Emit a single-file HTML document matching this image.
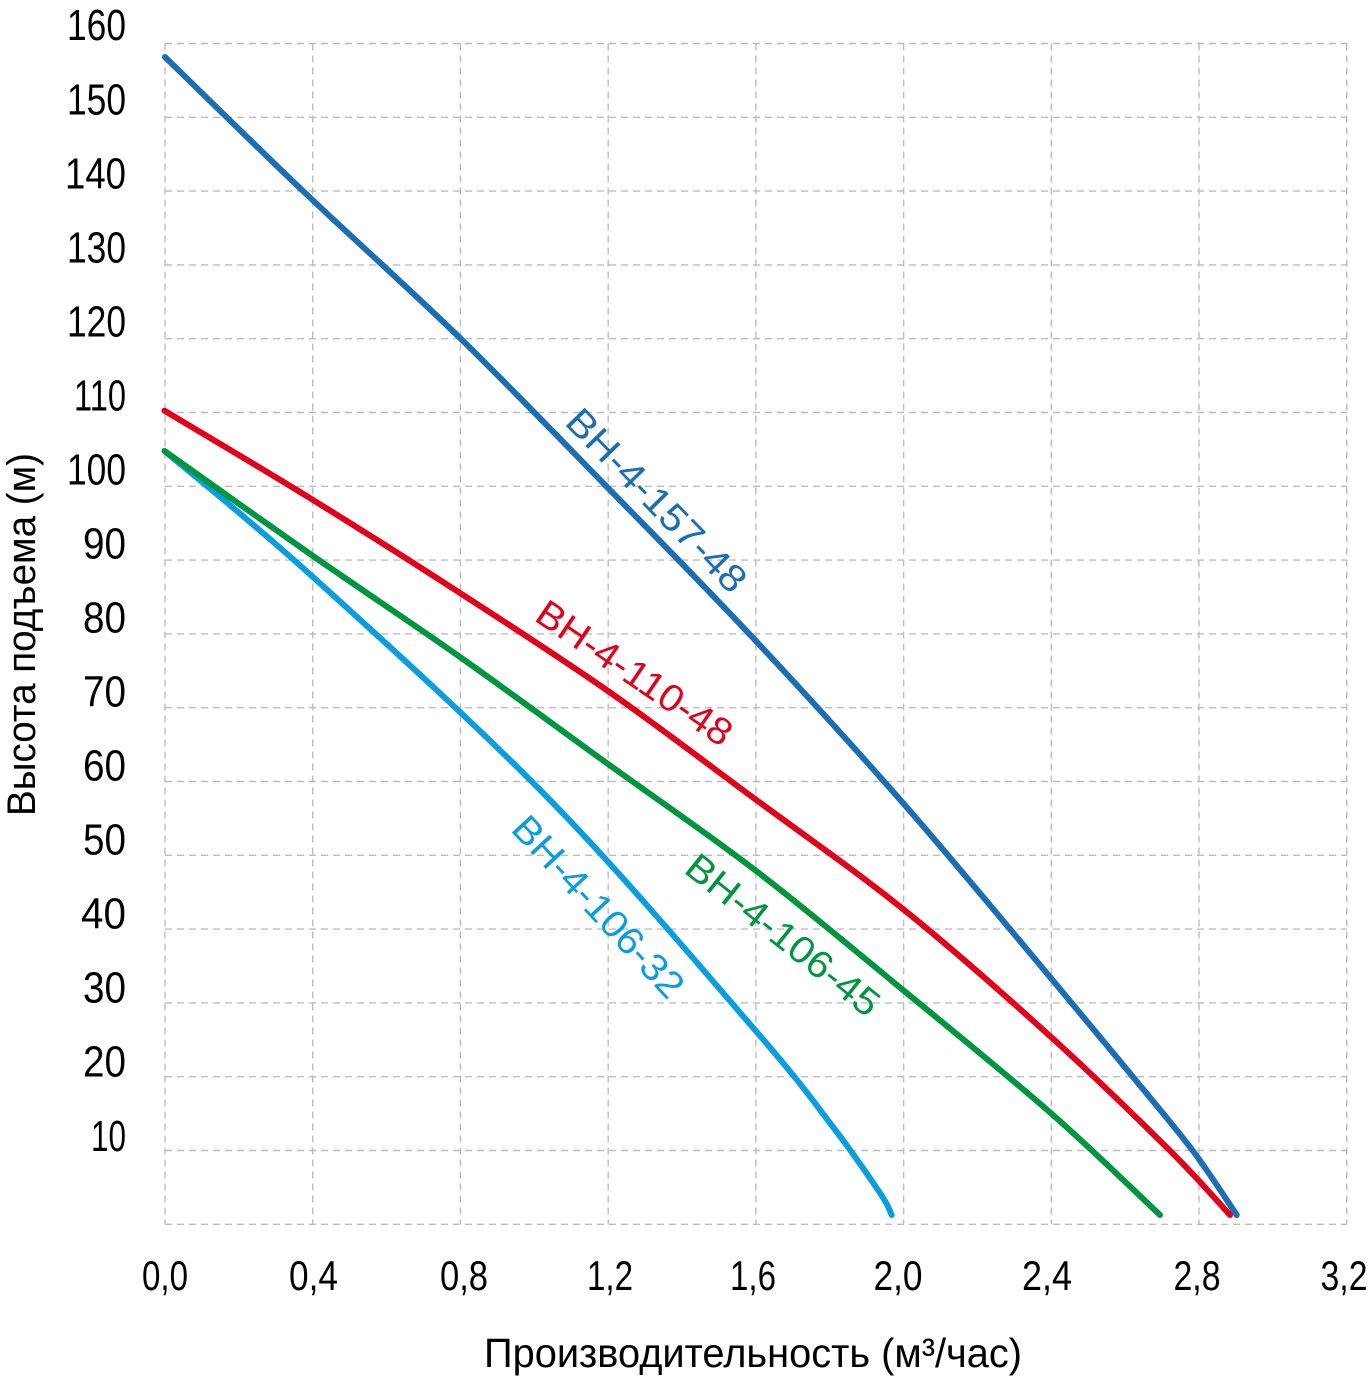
<!DOCTYPE html>
<html>
<head>
<meta charset="utf-8">
<style>
html,body{margin:0;padding:0;background:#fff;}
svg{display:block;}
text{font-family:"Liberation Sans","DejaVu Sans",sans-serif;}
</style>
</head>
<body>
<svg width="1371" height="1376" viewBox="0 0 1371 1376" xmlns="http://www.w3.org/2000/svg">
<rect width="1371" height="1376" fill="#fff"/>
<g stroke="#bdbdbd" stroke-width="1.4" stroke-dasharray="7 5" fill="none">
<line x1="165" y1="43.5" x2="1347" y2="43.5"/>
<line x1="165" y1="117.3" x2="1347" y2="117.3"/>
<line x1="165" y1="191.1" x2="1347" y2="191.1"/>
<line x1="165" y1="264.9" x2="1347" y2="264.9"/>
<line x1="165" y1="338.7" x2="1347" y2="338.7"/>
<line x1="165" y1="412.5" x2="1347" y2="412.5"/>
<line x1="165" y1="486.3" x2="1347" y2="486.3"/>
<line x1="165" y1="560.1" x2="1347" y2="560.1"/>
<line x1="165" y1="633.9" x2="1347" y2="633.9"/>
<line x1="165" y1="707.7" x2="1347" y2="707.7"/>
<line x1="165" y1="781.5" x2="1347" y2="781.5"/>
<line x1="165" y1="855.3" x2="1347" y2="855.3"/>
<line x1="165" y1="929.1" x2="1347" y2="929.1"/>
<line x1="165" y1="1002.9" x2="1347" y2="1002.9"/>
<line x1="165" y1="1076.7" x2="1347" y2="1076.7"/>
<line x1="165" y1="1150.5" x2="1347" y2="1150.5"/>
<line x1="165" y1="1224.3" x2="1347" y2="1224.3"/>
<line x1="165" y1="43.5" x2="165" y2="1224.3"/>
<line x1="312.7" y1="43.5" x2="312.7" y2="1224.3"/>
<line x1="460.4" y1="43.5" x2="460.4" y2="1224.3"/>
<line x1="608.2" y1="43.5" x2="608.2" y2="1224.3"/>
<line x1="755.9" y1="43.5" x2="755.9" y2="1224.3"/>
<line x1="903.6" y1="43.5" x2="903.6" y2="1224.3"/>
<line x1="1051.3" y1="43.5" x2="1051.3" y2="1224.3"/>
<line x1="1199" y1="43.5" x2="1199" y2="1224.3"/>
<line x1="1346.7" y1="43.5" x2="1346.7" y2="1224.3"/>
</g>

<g font-size="44" fill="#000" text-anchor="end">
<text x="126" y="40" textLength="59" lengthAdjust="spacingAndGlyphs">160</text>
<text x="126" y="114.5" textLength="59" lengthAdjust="spacingAndGlyphs">150</text>
<text x="126" y="188.5" textLength="61" lengthAdjust="spacingAndGlyphs">140</text>
<text x="126" y="262.5" textLength="59" lengthAdjust="spacingAndGlyphs">130</text>
<text x="126" y="336.5" textLength="59" lengthAdjust="spacingAndGlyphs">120</text>
<text x="126" y="410.5" textLength="52" lengthAdjust="spacingAndGlyphs">110</text>
<text x="126" y="484.5" textLength="59" lengthAdjust="spacingAndGlyphs">100</text>
<text x="126" y="558.5" textLength="43" lengthAdjust="spacingAndGlyphs">90</text>
<text x="126" y="632.5" textLength="43" lengthAdjust="spacingAndGlyphs">80</text>
<text x="126" y="706.5" textLength="43" lengthAdjust="spacingAndGlyphs">70</text>
<text x="126" y="780.5" textLength="43" lengthAdjust="spacingAndGlyphs">60</text>
<text x="126" y="854.5" textLength="43" lengthAdjust="spacingAndGlyphs">50</text>
<text x="126" y="928.5" textLength="45" lengthAdjust="spacingAndGlyphs">40</text>
<text x="126" y="1002.5" textLength="43" lengthAdjust="spacingAndGlyphs">30</text>
<text x="126" y="1076.5" textLength="43" lengthAdjust="spacingAndGlyphs">20</text>
<text x="126" y="1151" textLength="35" lengthAdjust="spacingAndGlyphs">10</text>
</g>

<g font-size="42" fill="#000" text-anchor="middle">
<text x="165" y="1290" textLength="46" lengthAdjust="spacingAndGlyphs">0,0</text>
<text x="313.5" y="1290" textLength="49" lengthAdjust="spacingAndGlyphs">0,4</text>
<text x="464" y="1290" textLength="48" lengthAdjust="spacingAndGlyphs">0,8</text>
<text x="610" y="1290" textLength="46" lengthAdjust="spacingAndGlyphs">1,2</text>
<text x="753" y="1290" textLength="46" lengthAdjust="spacingAndGlyphs">1,6</text>
<text x="898" y="1290" textLength="49" lengthAdjust="spacingAndGlyphs">2,0</text>
<text x="1047" y="1290" textLength="50" lengthAdjust="spacingAndGlyphs">2,4</text>
<text x="1197" y="1290" textLength="47" lengthAdjust="spacingAndGlyphs">2,8</text>
<text x="1344" y="1290" textLength="47" lengthAdjust="spacingAndGlyphs">3,2</text>
</g>

<text x="484" y="1367" font-size="41" fill="#000" textLength="538" lengthAdjust="spacingAndGlyphs">Производительность (м³/час)</text>
<text transform="translate(35,816) rotate(-90)" x="0" y="0" font-size="40" fill="#000" textLength="363" lengthAdjust="spacingAndGlyphs">Высота подъема (м)</text>

<g fill="none" stroke-width="6" stroke-linecap="round" stroke-linejoin="round">
<path stroke="#0a9ee0" d="M164.5,451 C189.3,472 248.8,518.8 313,577 C377.3,635.2 476.3,724.5 550,800 C623.7,875.5 707.8,975.5 755,1030 C802.2,1084.5 812.2,1099.8 833,1127 C853.8,1154.2 870.2,1178.3 880,1193 C889.8,1207.7 889.7,1211.3 891.7,1215"/>
<path stroke="#009640" d="M164.5,451 C189.3,468.5 263.8,521.7 313,556 C362.3,590.3 410.8,622.3 460,657 C509.2,691.7 558.8,728.5 608,764 C657.2,799.5 705.8,832.3 755,870 C804.2,907.7 853.7,949.5 903,990 C952.3,1030.5 1007.9,1075.5 1050.7,1113 C1093.5,1150.5 1141.8,1198 1160,1215"/>
<path stroke="#e2001a" d="M164.5,410.7 C189.3,425.6 263.8,469.6 313,500 C362.3,530.4 410.8,561.2 460,593 C509.2,624.8 558.8,656.7 608,691 C657.2,725.3 705.8,762.7 755,799 C804.2,835.3 853.7,869.4 903,909 C952.3,948.6 1006.2,996.4 1050.7,1036.7 C1095.2,1077 1140,1121 1170,1150.7 C1200,1180.4 1220,1204.3 1230,1215"/>
<path stroke="#1b6db4" d="M165,57 C188,79.3 253.8,144.2 303,191 C352.2,237.8 409.3,288.7 460,338 C510.7,387.3 557.8,436.7 607,487 C656.2,537.3 705.7,587.3 755,640 C804.3,692.7 853.8,746.8 903,803 C952.2,859.2 1011.7,931.3 1050,977 C1088.3,1022.7 1109.2,1048 1133,1077 C1156.8,1106 1175.7,1128 1193,1151 C1210.3,1174 1229.4,1204.3 1236.7,1215"/>
</g>

<g font-size="38" text-anchor="middle">
<text transform="translate(657,500) rotate(45.7)" y="13.5" fill="#1b6db4" textLength="240" lengthAdjust="spacingAndGlyphs">ВН-4-157-48</text>
<text transform="translate(634.7,672.5) rotate(34.2)" y="13.5" fill="#e2001a" textLength="228" lengthAdjust="spacingAndGlyphs">ВН-4-110-48</text>
<text transform="translate(783.3,934.5) rotate(38.5)" y="13.5" fill="#009640" textLength="236" lengthAdjust="spacingAndGlyphs">ВН-4-106-45</text>
<text transform="translate(598.7,906.3) rotate(47.2)" y="13.5" fill="#0a9ee0" textLength="233" lengthAdjust="spacingAndGlyphs">ВН-4-106-32</text>
</g>
</svg>
</body>
</html>
